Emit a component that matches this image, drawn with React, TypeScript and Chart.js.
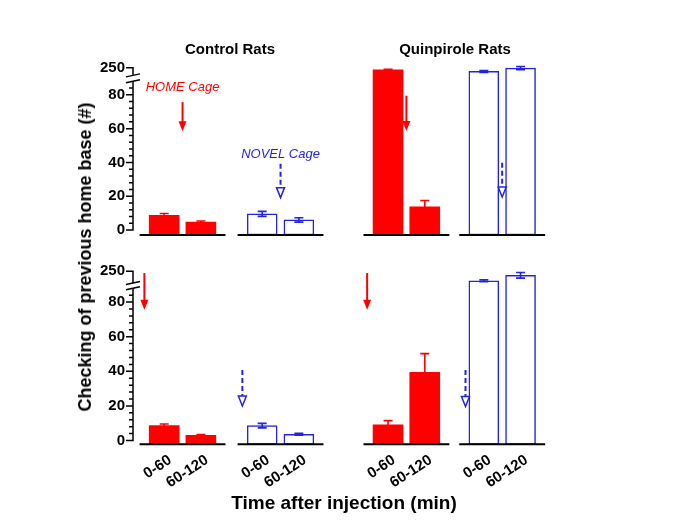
import React, { useEffect, useRef } from 'react';
import { Chart, registerables } from 'chart.js';

Chart.register(...registerables);

// ---------------- data ----------------
const timeBins = ['0-60', '60-120'];
const panelTitles = ['Control Rats', 'Quinpirole Rats'];
const yTickValues = [0, 20, 40, 60, 80, 250];

// top row
const topControlHome = [8.8, 4.8];
const topControlHomeErr = [1.0, 0.6];
const topControlNovel = [9.6, 6.0];
const topControlNovelErr = [1.5, 1.3];
const topQuinHome = [237, 13.7];
const topQuinHomeErr = [3, 3.8];
const topQuinNovel = [226, 248];
const topQuinNovelErr = [6, 10];

// bottom row
const botControlHome = [8.6, 3.0];
const botControlHomeErr = [0.9, 0.5];
const botControlNovel = [8.6, 3.6];
const botControlNovelErr = [1.3, 0.6];
const botQuinHome = [9.0, 39.4];
const botQuinHomeErr = [2.5, 10.8];
const botQuinNovel = [210, 233];
const botQuinNovelErr = [4, 12];

// ---------------- layout / style ----------------
const FONT = "'Liberation Sans', Arial, Helvetica, sans-serif";
const RED = '#ff0000';
const BLUE = '#2424dc';
const GROUP_OFFSETS = [0, 2.67, 6.1, 8.71];
const X_MIN = -0.85;
const X_MAX = 10.45;
const BASE_FROM = -0.67;
const BASE_TO = 1.67;
const LOWER_BREAK = 88;

type Arrow = { g: number; rel: number; from: number; to: number; color: string; dashed: boolean };
type Label = { g: number; rel: number; y: number; text: string; color: string };

type Panel = {
  canvasTop: number;
  canvasHeight: number;
  areaTop: number;
  areaBottom: number;
  yMin: number;
  upperBreak: number;
  top250: number;
  showX: boolean;
  series: { vals: number[]; errs: number[]; filled: boolean }[];
  arrows: Arrow[];
  labels: Label[];
};

const panels: Panel[] = [
  {
    canvasTop: 0,
    canvasHeight: 252,
    areaTop: 61,
    areaBottom: 239.2,
    yMin: -2.9,
    upperBreak: 91.5,
    top250: 96,
    showX: false,
    series: [
      { vals: topControlHome, errs: topControlHomeErr, filled: true },
      { vals: topControlNovel, errs: topControlNovelErr, filled: false },
      { vals: topQuinHome, errs: topQuinHomeErr, filled: true },
      { vals: topQuinNovel, errs: topQuinNovelErr, filled: false },
    ],
    arrows: [
      { g: 0, rel: 0.5, from: 75.7, to: 58.4, color: RED, dashed: false },
      { g: 1, rel: 0.5, from: 39.3, to: 19.2, color: BLUE, dashed: true },
      { g: 2, rel: 0.5, from: 79.5, to: 58.6, color: RED, dashed: false },
      { g: 3, rel: 0.5, from: 39.8, to: 19.6, color: BLUE, dashed: true },
    ],
    labels: [
      { g: 0, rel: 0.5, y: 84.4, text: 'HOME Cage', color: RED },
      { g: 1, rel: 0.5, y: 44.7, text: 'NOVEL Cage', color: BLUE },
    ],
  },
  {
    canvasTop: 250,
    canvasHeight: 256,
    areaTop: 267.5,
    areaBottom: 444.3,
    yMin: -2.2,
    upperBreak: 91,
    top250: 97.8,
    showX: true,
    series: [
      { vals: botControlHome, errs: botControlHomeErr, filled: true },
      { vals: botControlNovel, errs: botControlNovelErr, filled: false },
      { vals: botQuinHome, errs: botQuinHomeErr, filled: true },
      { vals: botQuinNovel, errs: botQuinNovelErr, filled: false },
    ],
    arrows: [
      { g: 0, rel: -0.54, from: 96.8, to: 75.6, color: RED, dashed: false },
      { g: 1, rel: -0.54, from: 40.7, to: 19.9, color: BLUE, dashed: true },
      { g: 2, rel: -0.57, from: 96.8, to: 75.6, color: RED, dashed: false },
      { g: 3, rel: -0.5, from: 40.7, to: 19.7, color: BLUE, dashed: true },
    ],
    labels: [],
  },
];

const X_AXIS_H = 60;
const Y_AXIS_W = 133;
const CANVAS_W = 600;
const AREA_RIGHT = 547.7;

function makeDisp(p: Panel) {
  return (v: number) => (v <= LOWER_BREAK ? v : p.upperBreak + ((v - 200) * (p.top250 - p.upperBreak)) / 50);
}

function drawArrow(ctx: CanvasRenderingContext2D, x: number, y0: number, y1: number, color: string, dashed: boolean) {
  const headH = 10;
  const headW = 4;
  ctx.save();
  ctx.strokeStyle = color;
  ctx.fillStyle = color;
  ctx.lineWidth = 2;
  ctx.setLineDash(dashed ? [5, 3] : []);
  ctx.beginPath();
  ctx.moveTo(x, y0);
  ctx.lineTo(x, y1 - headH + (dashed ? 0 : 1));
  ctx.stroke();
  ctx.setLineDash([]);
  ctx.beginPath();
  ctx.moveTo(x - headW, y1 - headH);
  ctx.lineTo(x + headW, y1 - headH);
  ctx.lineTo(x, y1);
  ctx.closePath();
  if (dashed) {
    ctx.fillStyle = '#fff';
    ctx.fill();
    ctx.lineWidth = 1.5;
    ctx.stroke();
  } else {
    ctx.fill();
  }
  ctx.restore();
}

function makePlugin(p: Panel) {
  const disp = makeDisp(p);
  return {
    id: 'panelDecor',
    afterDatasetsDraw(chart: any) {
      const ctx: CanvasRenderingContext2D = chart.ctx;
      const xs = chart.scales.x;
      const ys = chart.scales.y;
      const area = chart.chartArea;
      ctx.save();
      // error bars
      chart.data.datasets.forEach((ds: any, di: number) => {
        const meta = chart.getDatasetMeta(di);
        meta.data.forEach((el: any, i: number) => {
          const v = ds.rawValues[i];
          const e = ds.errValues[i];
          const yTop = ys.getPixelForValue(disp(v + e));
          const yBot = ys.getPixelForValue(disp(v - e));
          ctx.strokeStyle = ds.errColor;
          ctx.lineWidth = 1.6;
          ctx.beginPath();
          ctx.moveTo(el.x, yTop);
          ctx.lineTo(el.x, yBot);
          ctx.moveTo(el.x - 4.5, yTop);
          ctx.lineTo(el.x + 4.5, yTop);
          if (!ds.filledBar) {
            ctx.moveTo(el.x - 4.5, yBot);
            ctx.lineTo(el.x + 4.5, yBot);
          }
          ctx.stroke();
        });
      });
      // baselines
      ctx.strokeStyle = '#000';
      ctx.lineWidth = 2;
      GROUP_OFFSETS.forEach((g) => {
        ctx.beginPath();
        ctx.moveTo(xs.getPixelForValue(g + BASE_FROM), area.bottom);
        ctx.lineTo(xs.getPixelForValue(g + BASE_TO), area.bottom);
        ctx.stroke();
      });
      // y axis with break
      const L = area.left;
      const y0 = ys.getPixelForValue(0);
      const yb1 = ys.getPixelForValue(LOWER_BREAK);
      const yb2 = ys.getPixelForValue(p.upperBreak);
      const y250 = ys.getPixelForValue(disp(250));
      ctx.lineWidth = 1.5;
      ctx.beginPath();
      ctx.moveTo(L, y0 + 0.75);
      ctx.lineTo(L, yb1);
      ctx.moveTo(L, yb2);
      ctx.lineTo(L, y250 - 0.75);
      yTickValues.forEach((v) => {
        const yy = ys.getPixelForValue(disp(v));
        ctx.moveTo(L - 7, yy);
        ctx.lineTo(L, yy);
      });
      for (let v = 4; v <= 84; v += 4) {
        if (v % 20 === 0) continue;
        const yy = ys.getPixelForValue(v);
        ctx.moveTo(L - 4, yy);
        ctx.lineTo(L, yy);
      }
      ctx.stroke();
      // break marks
      [yb1, yb2].forEach((yy) => {
        ctx.beginPath();
        ctx.moveTo(L - 7, yy + 1.5);
        ctx.lineTo(L + 7, yy - 1.5);
        ctx.stroke();
      });
      // arrows
      p.arrows.forEach((a) => {
        const x = xs.getPixelForValue(GROUP_OFFSETS[a.g] + a.rel);
        drawArrow(ctx, x, ys.getPixelForValue(a.from), ys.getPixelForValue(a.to), a.color, a.dashed);
      });
      // labels
      ctx.font = `italic 13px ${FONT}`;
      ctx.textAlign = 'center';
      ctx.textBaseline = 'middle';
      p.labels.forEach((l) => {
        ctx.fillStyle = l.color;
        ctx.fillText(l.text, xs.getPixelForValue(GROUP_OFFSETS[l.g] + l.rel), ys.getPixelForValue(l.y));
      });
      ctx.restore();
    },
  };
}

function buildConfig(p: Panel): any {
  const disp = makeDisp(p);
  const datasets = p.series.map((s, gi) => ({
    type: 'bar',
    data: s.vals.map((v, i) => ({ x: GROUP_OFFSETS[gi] + i, y: disp(v) })),
    rawValues: s.vals,
    errValues: s.errs,
    filledBar: s.filled,
    errColor: s.filled ? RED : BLUE,
    backgroundColor: s.filled ? RED : '#ffffff',
    borderColor: s.filled ? RED : BLUE,
    borderWidth: s.filled ? 0 : 1.5,
    borderSkipped: false,
    barThickness: 30,
    grouped: false,
    base: p.yMin,
  }));
  const tickPositions: number[] = [];
  const tickLabels: string[] = [];
  GROUP_OFFSETS.forEach((g) => {
    timeBins.forEach((t, i) => {
      tickPositions.push(g + i);
      tickLabels.push(t);
    });
  });
  const padTop = p.areaTop - p.canvasTop;
  const padBottom = p.canvasTop + p.canvasHeight - p.areaBottom - (p.showX ? X_AXIS_H : 0);
  return {
    type: 'bar',
    data: { datasets },
    options: {
      animation: false,
      responsive: false,
      maintainAspectRatio: false,
      devicePixelRatio: 1,
      layout: { padding: { top: padTop, bottom: padBottom, left: 0, right: CANVAS_W - AREA_RIGHT } },
      plugins: { legend: { display: false }, tooltip: { enabled: false }, title: { display: false } },
      scales: {
        x: {
          type: 'linear',
          min: X_MIN,
          max: X_MAX,
          offset: false,
          bounds: 'data',
          display: p.showX,
          grid: { display: false, drawTicks: false, offset: false },
          border: { display: false },
          ticks: {
            autoSkip: false,
            minRotation: 33,
            maxRotation: 33,
            padding: 7,
            labelOffset: 6,
            color: '#000',
            font: { family: FONT, size: 15, weight: 'bold' },
            callback: (_v: any, idx: number) => tickLabels[idx] ?? '',
          },
          afterBuildTicks: (scale: any) => {
            scale.ticks = tickPositions.map((v) => ({ value: v }));
          },
          afterFit: (scale: any) => {
            if (p.showX) scale.height = X_AXIS_H;
          },
        },
        y: {
          type: 'linear',
          min: p.yMin,
          max: 100,
          bounds: 'data',
          grid: { display: false, drawTicks: false },
          border: { display: false },
          ticks: {
            padding: 8,
            color: '#000',
            font: { family: FONT, size: 15, weight: 'bold' },
            callback: (_v: any, idx: number) => String(yTickValues[idx] ?? ''),
          },
          afterBuildTicks: (scale: any) => {
            scale.ticks = yTickValues.map((v) => ({ value: disp(v) }));
          },
          afterFit: (scale: any) => {
            scale.width = Y_AXIS_W;
          },
        },
      },
    },
    plugins: [makePlugin(p)],
  };
}

export default function App() {
  const topRef = useRef<HTMLCanvasElement>(null);
  const botRef = useRef<HTMLCanvasElement>(null);

  useEffect(() => {
    const charts: Chart[] = [];
    [topRef, botRef].forEach((ref, i) => {
      if (ref.current) charts.push(new Chart(ref.current, buildConfig(panels[i])));
    });
    return () => charts.forEach((c) => c.destroy());
  }, []);

  const textBase: React.CSSProperties = {
    position: 'absolute',
    fontFamily: FONT,
    fontWeight: 'bold',
    color: '#000',
    whiteSpace: 'nowrap',
    lineHeight: 1,
    transform: 'translate(-50%, -50%)',
  };

  return (
    <div style={{ position: 'fixed', left: 0, top: 0, width: 685, height: 529, background: '#fff', overflow: 'hidden' }}>
      <canvas ref={topRef} width={CANVAS_W} height={panels[0].canvasHeight} style={{ position: 'absolute', left: 0, top: panels[0].canvasTop }} />
      <canvas ref={botRef} width={CANVAS_W} height={panels[1].canvasHeight} style={{ position: 'absolute', left: 0, top: panels[1].canvasTop }} />
      <div style={{ ...textBase, left: 230, top: 48, fontSize: 15 }}>{panelTitles[0]}</div>
      <div style={{ ...textBase, left: 455, top: 48, fontSize: 15 }}>{panelTitles[1]}</div>
      <div style={{ ...textBase, left: 85, top: 257, fontSize: 18, transform: 'translate(-50%, -50%) rotate(-90deg)' }}>
        Checking of previous home base (#)
      </div>
      <div style={{ ...textBase, left: 344, top: 502, fontSize: 19 }}>Time after injection (min)</div>
    </div>
  );
}
